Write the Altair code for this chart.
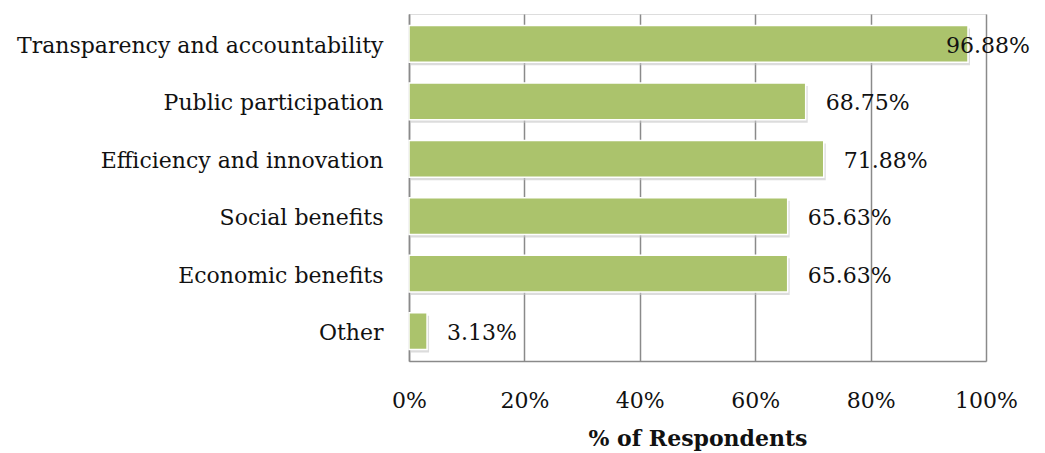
import altair as alt
import pandas as pd

# Reasons given by respondents, top to bottom
reasons = [
    "Transparency and accountability",
    "Public participation",
    "Efficiency and innovation",
    "Social benefits",
    "Economic benefits",
    "Other",
]
shares = [96.88, 68.75, 71.88, 65.63, 65.63, 3.13]
x_ticks = [0, 20, 40, 60, 80, 100]

df = pd.DataFrame({"reason": reasons, "share": shares})
df["label"] = df["share"].map(lambda v: f"{v:.2f}%")

FONT = "DejaVu Serif"
FS = 22
GREEN = "#ABC36C"
GRID = "#8a8a8a"

x_enc = alt.X(
    "share:Q",
    scale=alt.Scale(domain=[0, 100], nice=False),
    axis=alt.Axis(
        values=x_ticks,
        labelExpr="datum.value + '%'",
        title="% of Respondents",
        grid=True,
        gridColor=GRID,
        gridWidth=1.5,
        domainColor=GRID,
        domainWidth=1.5,
        ticks=False,
        labelFlush=False,
        labelPadding=29,
        labelFont=FONT,
        labelFontSize=FS,
        labelColor="#111",
        titleFont=FONT,
        titleFontSize=22,
        titleFontWeight="bold",
        titleColor="#111",
        titlePadding=17,
    ),
)
y_enc = alt.Y(
    "reason:N",
    sort=reasons,
    scale=alt.Scale(paddingInner=0.36, paddingOuter=0.2),
    axis=alt.Axis(
        title=None,
        ticks=False,
        domainColor=GRID,
        domainWidth=1.5,
        labelPadding=26,
        labelFont=FONT,
        labelFontSize=FS,
        labelColor="#111",
        labelLimit=500,
        labelOffset=2,
    ),
)

base = alt.Chart(df).encode(x=x_enc, y=y_enc)

# soft drop shadow behind each bar
shadow = base.mark_bar(color="#c4c4c4", opacity=0.6, xOffset=2, yOffset=3)
bars = base.mark_bar(color=GREEN, stroke="white", strokeWidth=1.5)

labels_out = base.transform_filter("datum.share < 90").mark_text(
    align="left", baseline="middle", dx=20, dy=2, font=FONT, fontSize=FS, color="#111"
).encode(text="label:N")
labels_in = base.transform_filter("datum.share >= 90").mark_text(
    align="left", baseline="middle", dx=-22, dy=2, font=FONT, fontSize=FS, color="#111"
).encode(text="label:N")

chart = (
    alt.layer(shadow, bars, labels_out, labels_in)
    .properties(
        width=577,
        height=347,
        autosize=alt.AutoSizeParams(type="none"),
        padding={"left": 409, "top": 14, "right": 59, "bottom": 92},
    )
    .configure_view(stroke=None)
    .configure(background="white")
)

chart.save("out.html", embed_options={"renderer": "svg", "actions": False})
